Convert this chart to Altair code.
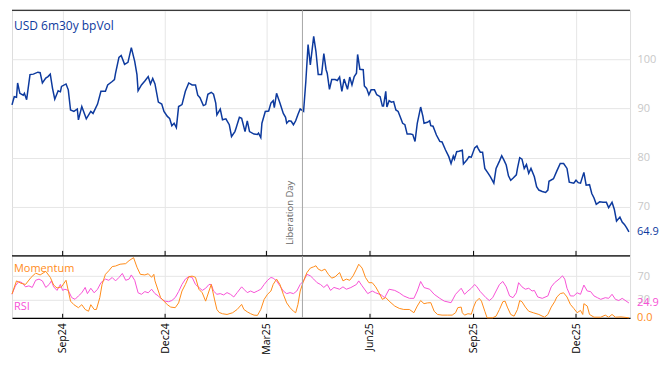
import altair as alt
import pandas as pd

START = "2024-07-18"

vol_days = [0,2,4,5,7,10,11,13,16,19,23,25,27,30,32,34,36,38,41,43,44,48,50,52,55,58,59,62,66,70,72,76,79,83,85,89,91,92,95,97,100,103,106,109,111,112,115,118,121,123,125,127,130,133,135,138,140,142,144,146,148,151,154,157,160,163,165,167,170,172,174,177,179,181,182,185,187,190,193,195,198,199,202,204,207,209,211,215,218,219,221,222,225,228,230,232,233,235,238,241,243,244,246,248,250,252,254,256,259,261,263,265,268,270,272,275,277,279,280,282,284,287,289,291,293,295,298,300,302,304,306,307,309,312,313,315,317,319,322,324,327,329,330,332,333,335,337,339,341,343,345,347,349,351,354,356,358,360,363,365,366,369,371,372,374,377,380,382,385,388,390,392,393,395,397,400,401,404,406,408,411,413,414,416,418,420,423,425,428,430,433,435,437,439,441,443,445,448,449,451,453,455,457,459,461,464,466,468,471,474,476,477,481,484,487,490,493,495,499,501,503,505,508,510,513,515,517,519,522,525,528,530,533,535,537,540,542,544,546,548]
vol_vals = [90.75,92.4,92.3,95.2,93.1,92.7,93.1,91.8,96.9,97.0,97.4,97.3,95.2,96.2,96.5,97.0,94.1,91.9,93.6,93.4,94.5,95.0,93.8,89.7,89.4,89.9,87.7,90.4,87.9,89.4,89.0,90.9,93.5,93.5,94.8,95.5,95.9,97.2,100.4,100.8,99.0,99.4,102.4,99.6,96.9,93.6,94.8,95.6,96.5,95.0,96.1,95.0,91.3,90.9,89.4,88.4,88.0,86.5,87.0,86.1,90.4,90.8,93.5,95.2,94.8,94.8,92.7,92.2,90.6,90.8,92.9,93.3,92.9,91.1,88.7,89.9,87.7,87.9,86.7,84.3,85.3,86.0,88.2,88.0,85.3,87.5,85.3,84.8,84.7,85.0,84.1,87.0,89.4,89.5,91.1,91.6,90.2,93.1,91.1,89.0,88.2,87.0,87.5,87.4,86.7,87.5,88.8,89.9,89.4,95.5,103.0,98.9,104.7,101.6,96.9,96.9,101.2,97.9,97.2,93.9,95.9,95.9,95.7,96.4,93.5,96.0,93.9,96.4,94.8,96.5,97.2,101.0,98.0,97.9,94.6,94.1,92.8,93.8,93.8,92.8,92.4,90.5,90.5,93.5,90.3,91.6,91.3,91.4,89.7,89.4,88.2,87.0,86.7,84.8,84.8,84.7,83.3,87.0,90.3,88.4,87.0,87.2,87.5,86.5,86.4,84.6,83.3,83.2,81.6,80.2,78.8,80.3,79.7,81.2,81.3,81.5,78.7,79.5,80.2,80.1,82.0,82.4,81.9,81.1,81.1,77.8,76.8,76.1,74.8,77.8,79.3,80.4,79.5,78.5,76.3,75.4,75.8,76.5,77.8,80.0,79.7,77.8,78.6,76.8,77.8,76.1,74.1,73.4,73.1,72.9,73.4,75.2,75.7,77.3,78.8,78.8,77.8,75.0,74.8,75.4,74.9,74.8,77.0,74.4,74.5,72.7,71.8,70.5,71.0,70.9,70.9,69.8,70.9,69.5,67.1,67.9,66.9,66.4,65.7,64.9]

mom_days = [0,4,8,12,17,21,25,30,34,37,40,44,48,52,55,59,62,65,68,70,73,75,78,80,83,86,89,92,96,101,104,108,111,114,118,121,124,126,127,130,132,135,138,141,145,148,151,154,157,160,163,166,169,172,175,177,180,182,184,187,191,196,200,204,206,209,212,215,218,221,224,227,230,232,235,238,241,244,247,250,252,254,256,259,262,265,268,270,272,275,278,281,284,287,291,294,297,300,303,306,308,311,314,317,320,323,326,329,332,335,340,344,348,353,357,360,363,366,369,372,375,378,382,387,391,394,396,399,400,402,405,408,410,412,415,417,420,422,427,430,433,436,438,440,443,446,449,451,453,456,459,463,468,473,476,479,482,484,487,490,493,496,499,502,505,507,508,511,513,517,523,527,530,533,536,541,548]
mom_vals = [40,62,58,56,68,75,72,78,68,55,50,52,63,28,22,17,22,14,11,22,14,14,34,56,73,79,86,87,90,91,96,101,85,73,72,74,68,73,62,45,34,28,22,18,17,25,45,56,69,70,68,48,42,28,45,56,30,14,9,6.8,5.6,8.5,14,22.5,14,10,6.8,4.5,4,14,31,39.5,45,56,65,56,39.5,25,17,11,8.5,22.5,45,62,76,83.5,85.7,87.4,81.8,79,81.8,73,66.6,68.8,76,62,65,63,70.5,81.8,90,83.5,67.7,59,59,52,42,31,34,28,19.7,15.8,14,14,8.5,19.7,29,23.7,25,25.4,11,5.6,4.5,4.5,4.5,8.5,17,18,8.5,4.5,6.8,6,18,27,32.7,28,11,0,0,2.8,14,27,28,18,5.6,2.8,14,29,27,18,11,8.5,5.6,1,5.6,18,27,35,40.6,42,35,22.5,15.8,8.5,12.4,5.6,23.7,19.7,5.6,1,1,4.5,1,5.6,1,1.5,0.0]

rsi_days = [0,3,6,9,12,15,18,21,24,27,30,33,35,37,40,43,45,47,50,53,56,59,62,65,67,70,73,76,79,83,86,89,92,95,98,101,104,106,109,112,115,118,121,124,127,130,133,136,139,142,145,148,151,154,157,160,163,166,169,172,175,177,179,182,185,188,191,194,197,200,204,206,209,212,215,218,221,224,227,230,232,235,238,241,244,247,250,253,256,259,262,265,268,271,274,277,280,283,286,291,294,297,301,306,308,311,316,320,323,328,331,335,340,344,348,353,357,360,363,366,371,375,380,384,390,394,399,402,405,408,411,413,416,421,424,427,430,433,436,439,442,445,448,450,453,456,459,462,464,467,471,476,479,482,486,489,491,493,496,499,502,505,508,511,514,517,520,523,527,530,533,536,539,542,548]
rsi_vals = [39.5,53.6,61,59,52,53.6,51,63,65,62,51,56,62,52,46,56,46,48,46,34,31,36.7,42,51,40.6,49.6,42,48,59,65,63,67.7,62,67.7,74.5,63,65,72,63,42,39.5,44,42,48,40.6,36.7,31,28,27,29,34,44,56,65,69,68,56,51,46,49.6,56,56,45,39.5,40.6,38.4,42.3,39.5,35,42.3,52,48,42.3,45,42.3,45,48,56,63,67.7,66.6,62,53.6,45,40.6,42.3,40.6,45,56,62,73,70.5,65,59,56,51,56,46,51,48,52,48,50.8,56,62,53.6,40.6,45,42,38.4,33.8,48,46,42,36.7,32.7,32.7,45,61,50.8,48,39.5,32.7,28,25.4,39.5,49.6,39.5,45,49.6,56,52,44,33.8,29,33.8,45,56,61,52,36.7,33.8,42,59,52,48,49.6,45,46,35,32.7,36.7,52,59,65,70.5,65,49.6,36.7,36.7,42,39.5,55,45,44,36.7,33.8,31,33.8,32.7,39.5,31,29,32.7,24.9]

tick_dates = ["2024-09-01", "2024-12-01", "2025-03-01", "2025-06-01", "2025-09-01", "2025-12-01"]
event_date = ["2025-04-02"]
event_label = "Liberation Day"
title_text = "USD 6m30y bpVol"
vol_ticks = [70, 80, 90, 100]
ind_ticks = [30, 70]
last_vol = 64.9
last_rsi = 24.9
last_mom = 0.0

BLUE = "#0d3a9e"
ORANGE = "#ff8c1a"
MAGENTA = "#f752d6"
GRID = "#e6e6e6"
LBL = "#c8c8c8"
FONT = "Open Sans"

W, H1, H2 = 619, 246, 62


def to_dates(days):
    return pd.Timestamp(START) + pd.to_timedelta(days, unit="D")


vol_df = pd.DataFrame({"date": to_dates(vol_days), "v": vol_vals})
mom_df = pd.DataFrame({"date": to_dates(mom_days), "v": mom_vals})
rsi_df = pd.DataFrame({"date": to_dates(rsi_days), "v": rsi_vals})
tick_df = pd.DataFrame({"date": pd.to_datetime(tick_dates)})
event_df = pd.DataFrame({"date": pd.to_datetime(event_date), "label": [event_label]})
one = pd.DataFrame({"a": [0]})

tick_vals = [alt.DateTime(year=int(d[:4]), month=int(d[5:7]), date=int(d[8:])) for d in tick_dates]
xscale = alt.Scale(domain=[alt.DateTime(year=2024, month=7, date=18),
                           alt.DateTime(year=2026, month=1, date=18)])

# ---------- top panel ----------
top_x_axis = alt.Axis(values=tick_vals, grid=True, gridColor=GRID, labels=False,
                      ticks=False, domain=False, title=None)
top_y = alt.Y("v:Q", title=None,
              scale=alt.Scale(domain=[60, 110], nice=False, zero=False),
              axis=alt.Axis(orient="right", values=vol_ticks, grid=True, gridColor=GRID,
                            ticks=False, domain=False, labelColor=LBL, labelFontSize=11,
                            labelPadding=7, labelFont=FONT))

vol_line = alt.Chart(vol_df).mark_line(color=BLUE, strokeWidth=1.5).encode(
    x=alt.X("date:T", scale=xscale, axis=top_x_axis, title=None), y=top_y)

top_border = alt.Chart(one).mark_rule(color="black", strokeWidth=1.2).encode(
    x=alt.value(0), x2=alt.value(W), y=alt.value(0))

top_ticks = alt.Chart(tick_df).mark_rule(color="black", strokeWidth=1).encode(
    x=alt.X("date:T", title=None), y=alt.value(H1 - 5), y2=alt.value(H1))

event_rule_top = alt.Chart(event_df).mark_rule(color="#a6a6a6", strokeWidth=1).encode(
    x=alt.X("date:T", title=None), y=alt.value(0), y2=alt.value(H1))

event_text = alt.Chart(event_df).mark_text(
    angle=270, align="left", baseline="bottom", dy=-7, fontSize=9.5, color="#666666", font=FONT
).encode(x=alt.X("date:T", title=None), y=alt.value(H1 - 11), text="label:N")

title_mark = alt.Chart(one).mark_text(
    align="left", baseline="middle", fontSize=12, color=BLUE, font=FONT
).encode(x=alt.value(2), y=alt.value(16), text=alt.value(title_text))

vol_last = alt.Chart(pd.DataFrame({"v": [last_vol], "t": [f"{last_vol:.1f}"]})).mark_text(
    align="left", baseline="middle", fontSize=11, color=BLUE, font=FONT
).encode(x=alt.value(W + 7), y=alt.Y("v:Q", title=None), text="t:N")

top = alt.layer(vol_line, top_border, top_ticks, event_rule_top, event_text, title_mark,
                vol_last).properties(width=W, height=H1)

# ---------- bottom panel ----------
bot_x_axis = alt.Axis(values=tick_vals, format="%b%y", grid=True, gridColor=GRID,
                      labelAngle=-90, labelColor="black", labelFontSize=10.5, labelFont=FONT,
                      labelPadding=5, ticks=False, domain=True, domainColor="black",
                      domainWidth=1.2, title=None)
bot_y = alt.Y("v:Q", title=None,
              scale=alt.Scale(domain=[0, 104], nice=False, zero=False),
              axis=alt.Axis(orient="right", values=ind_ticks, grid=True, gridColor=GRID,
                            ticks=False, domain=False, labelColor=LBL, labelFontSize=11,
                            labelPadding=7, labelFont=FONT))

rsi_line = alt.Chart(rsi_df).mark_line(color=MAGENTA, strokeWidth=1).encode(
    x=alt.X("date:T", scale=xscale, axis=bot_x_axis, title=None), y=bot_y)
mom_line = alt.Chart(mom_df).mark_line(color=ORANGE, strokeWidth=1).encode(
    x=alt.X("date:T", title=None), y=alt.Y("v:Q", title=None))

bot_border = alt.Chart(one).mark_rule(color="black", strokeWidth=1.2).encode(
    x=alt.value(0), x2=alt.value(W), y=alt.value(0))
bot_ticks = alt.Chart(tick_df).mark_rule(color="black", strokeWidth=1).encode(
    x=alt.X("date:T", title=None), y=alt.value(H2 - 4), y2=alt.value(H2))
event_rule_bot = alt.Chart(event_df).mark_rule(color="#a6a6a6", strokeWidth=1).encode(
    x=alt.X("date:T", title=None), y=alt.value(0), y2=alt.value(H2))

mom_title = alt.Chart(one).mark_text(
    align="left", baseline="middle", fontSize=11, color=ORANGE, font=FONT
).encode(x=alt.value(2), y=alt.value(13), text=alt.value("Momentum"))
rsi_title = alt.Chart(one).mark_text(
    align="left", baseline="middle", fontSize=11, color=MAGENTA, font=FONT
).encode(x=alt.value(2), y=alt.value(51), text=alt.value("RSI"))

rsi_last = alt.Chart(pd.DataFrame({"v": [last_rsi], "t": [f"{last_rsi:.1f}"]})).mark_text(
    align="left", baseline="middle", fontSize=11, color=MAGENTA, font=FONT
).encode(x=alt.value(W + 7), y=alt.Y("v:Q", title=None), text="t:N")
mom_last = alt.Chart(pd.DataFrame({"v": [last_mom], "t": [f"{last_mom:.1f}"]})).mark_text(
    align="left", baseline="middle", fontSize=11, color=ORANGE, font=FONT
).encode(x=alt.value(W + 7), y=alt.Y("v:Q", title=None), text="t:N")

bottom = alt.layer(rsi_line, mom_line, bot_border, bot_ticks, event_rule_bot, mom_title,
                   rsi_title, rsi_last, mom_last).properties(width=W, height=H2)

chart = alt.vconcat(top, bottom, spacing=0, bounds="flush").properties(
    padding={"left": 0, "top": 0, "right": 0, "bottom": 2}
).configure_view(stroke=None).configure(font=FONT)

chart.save("out.html", embed_options={"renderer": "svg", "actions": False})
